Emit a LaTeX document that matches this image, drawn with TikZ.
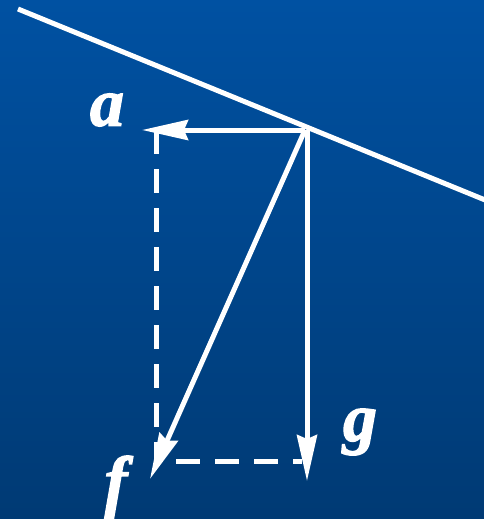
\documentclass[tikz,border=0pt]{standalone}
\usepackage{fontspec}
\setmainfont{Liberation Serif}
\newfontfamily\lblfont{Liberation Serif Bold Italic}[FakeBold=2]
\usetikzlibrary{arrows.meta}
\definecolor{bgtop}{RGB}{0,81,162}
\definecolor{bgbot}{RGB}{0,58,116}
\begin{document}
\begin{tikzpicture}[x=1pt,y=-1pt,
  vec/.style={white,line width=5pt,-{Stealth[length=46pt,width=20pt,inset=4pt]}},
  guide/.style={white,line width=5pt,dash pattern=on 24pt off 15pt},
  lbl/.style={white,font=\fontsize{68}{68}\lblfont,inner sep=0pt}]
\shade[top color=bgtop,bottom color=bgbot] (0,0) rectangle (484,519);
\useasboundingbox (0,0) rectangle (484,519);
\coordinate (L1) at (18,9);
\coordinate (L2) at (490,202);
\coordinate (O) at (305,130);
\coordinate (A) at (142,130);
\coordinate (G) at (307,481);
\coordinate (F) at (150,479);
\coordinate (C1) at (156,130);
\coordinate (C2) at (156,461);
\coordinate (C3) at (302,461);
\draw[white,line width=5pt] (L1) -- (L2);
\draw[guide] (C1) -- (C2) -- (C3);
\draw[vec] (O) -- (A);
\draw[vec] (307,130) -- (G);
\draw[vec] (O) -- (F);
\node[lbl] (la) at (107,110) {a};
\node[lbl] (lg) at (360,432) {g};
\node[lbl] (lf) at (116,487) {f};
\end{tikzpicture}
\end{document}
